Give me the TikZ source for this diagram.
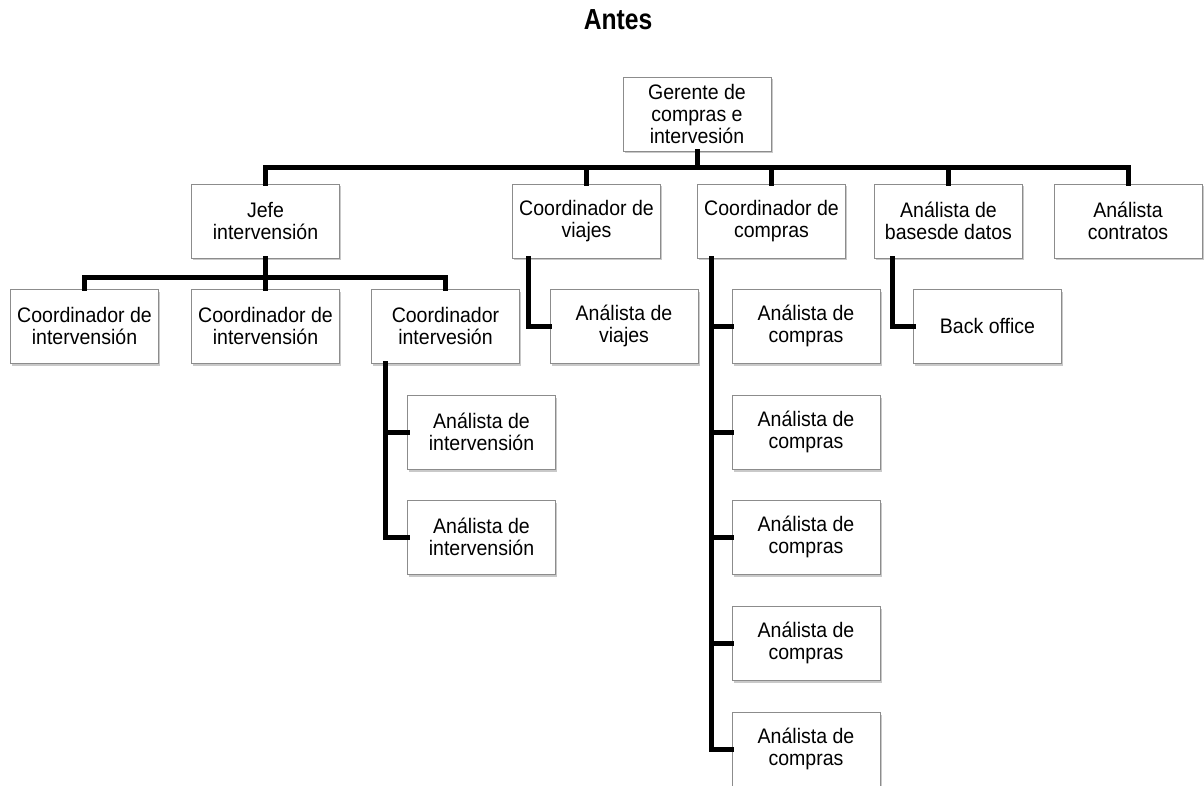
\documentclass[tikz,border=0pt]{standalone}
\usepackage{fontspec}
\setmainfont{Liberation Sans}
\newfontfamily\boxfont[FakeStretch=0.93]{Liberation Sans}
\newfontfamily\titlefont[FakeStretch=0.85]{Liberation Sans Bold}
\usetikzlibrary{shadows}
\begin{document}
\begin{tikzpicture}[x=1pt,y=-1pt,
  box/.style={draw=black!45, line width=0.8pt, fill=white, minimum width=148pt, minimum height=74pt,
    align=center, inner sep=2pt, font=\boxfont\fontsize{21}{22}\selectfont,
    drop shadow={shadow xshift=1.5pt, shadow yshift=-2.5pt, opacity=0.3, fill=black!70}},
  link/.style={line width=5pt, line join=miter, line cap=rect}]
\useasboundingbox (0,0) rectangle (1204,786);
\node[font=\titlefont\fontsize{29}{32}\selectfont, anchor=base] (title) at (618,30) {Antes};
\node[box] (g) at (697,114) {Gerente de\\compras e\\intervesión};
\node[box] (jefe) at (265.5,221) {Jefe\\intervensión};
\node[box] (cv) at (586.5,221) {Coordinador de\\viajes};
\node[box] (cc) at (771.5,221) {Coordinador de\\compras};
\node[box] (ab) at (948.5,221) {Análista de\\basesde datos};
\node[box] (ac) at (1128,221) {Análista\\contratos};
\node[box] (ci1) at (84.5,326) {Coordinador de\\intervensión};
\node[box] (ci2) at (265.5,326) {Coordinador de\\intervensión};
\node[box] (ci3) at (445.5,326) {Coordinador\\intervesión};
\node[box] (ai1) at (481.5,432) {Análista de\\intervensión};
\node[box] (ai2) at (481.5,537) {Análista de\\intervensión};
\node[box] (av) at (624,326) {Análista de\\viajes};
\node[box] (acp1) at (806,326) {Análista de\\compras};
\node[box] (acp2) at (806,432) {Análista de\\compras};
\node[box] (acp3) at (806,537) {Análista de\\compras};
\node[box] (acp4) at (806,643) {Análista de\\compras};
\node[box] (acp5) at (806,749) {Análista de\\compras};
\node[box] (bo) at (987.5,326) {Back office};
% connectors
\draw[link] (g.south) -- ++(0,16) -| (jefe.north);
\draw[link] (g.south) -- ++(0,16) -| (cv.north);
\draw[link] (g.south) -- ++(0,16) -| (cc.north);
\draw[link] (g.south) -- ++(0,16) -| (ab.north);
\draw[link] (g.south) -- ++(0,16) -| (ac.north);
\draw[link] (jefe.south) -- ++(0,19) -| (ci1.north);
\draw[link] (jefe.south) -- ++(0,19) -| (ci2.north);
\draw[link] (jefe.south) -- ++(0,19) -| (ci3.north);
\draw[link] ([xshift=-60.5pt]ci3.south) |- (ai1.west);
\draw[link] ([xshift=-60.5pt]ci3.south) |- (ai2.west);
\draw[link] ([xshift=-58.5pt]cv.south) |- (av.west);
\foreach \i in {1,...,5}{\draw[link] ([xshift=-60.5pt]cc.south) |- (acp\i.west);}
\draw[link] ([xshift=-56.5pt]ab.south) |- (bo.west);
\end{tikzpicture}
\end{document}
